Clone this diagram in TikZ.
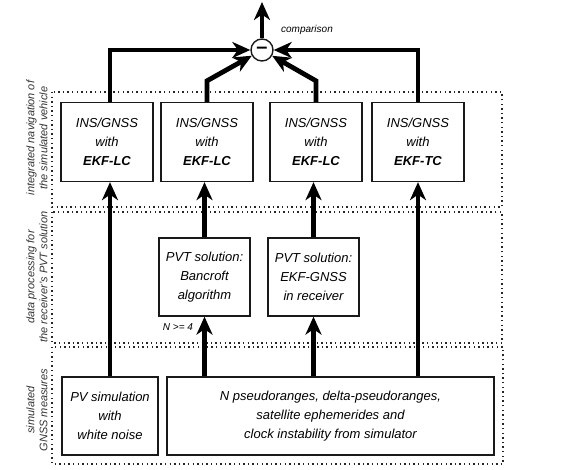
\documentclass[tikz,border=0pt]{standalone}
\usepackage{fontspec}
\setmainfont{Liberation Sans}
\usetikzlibrary{arrows.meta, positioning}

\begin{document}
\begin{tikzpicture}[
    x=1pt, y=-1pt,
    box/.style={draw=black!90, line width=1.3pt, minimum width=92pt,
                minimum height=79pt, inner sep=2pt, align=center,
                font=\fontsize{13}{19}\selectfont\itshape},
    band/.style={draw=black!85, line width=1.4pt,
                 dash pattern=on 1.4pt off 3.2pt},
    side/.style={rotate=90, align=center, text=black!80,
                 font=\fontsize{11}{13}\selectfont\itshape},
    flow/.style={line width=4.8pt,
                 -{Stealth[length=18pt, width=16pt, inset=5.5pt]}}
  ]
  \useasboundingbox (0,0) rectangle (573,470);

  % dotted bands
  \draw[band] (52,92) rectangle (502,207);
  \draw[band] (52,212) rectangle (502,343);
  \draw[band] (52,347) rectangle (503,464);

  \node[side] (lblnav) at (37,138) {integrated navigation of\\the simulated vehicle};
  \node[side] (lblpvt) at (37,277) {data processing for\\the receiver's PVT solution};
  \node[side] (lblsim) at (37,410) {simulated\\GNSS measures};

  % integrated navigation
  \node[box] (lcA) at (107,142) {INS/GNSS\\with\\\textbf{EKF-LC}};
  \node[box] (lcB) at (207,142) {INS/GNSS\\with\\\textbf{EKF-LC}};
  \node[box] (lcC) at (316,142) {INS/GNSS\\with\\\textbf{EKF-LC}};
  \node[box] (tc) at (418,142) {INS/GNSS\\with\\\textbf{EKF-TC}};

  % PVT solution
  \node[box, minimum width=91pt, minimum height=78pt] (bancroft) at (204.5,277)
    {PVT solution:\\Bancroft\\algorithm};
  \node[box, minimum width=91pt, minimum height=78pt] (ekfgnss) at (313.5,277)
    {PVT solution:\\EKF-GNSS\\in receiver};

  % simulated measures
  \node[box, minimum width=96pt, minimum height=78pt] (pvsim) at (110,416)
    {PV simulation\\with\\white noise};
  \node[box, minimum width=327pt, minimum height=78pt] (meas) at (330.5,416)
    {N pseudoranges, delta-pseudoranges,\\satellite ephemerides and\\clock instability from simulator};

  % comparison
  \node[circle, draw=black!90, line width=1.4pt, minimum size=22pt, inner sep=0pt,
        font=\fontsize{20}{20}\selectfont\bfseries] (diff) at (262,50) {--};
  \coordinate (out) at (262,2);
  \node[font=\fontsize{10}{12}\selectfont\itshape] (cmp) at (307,30) {comparison};
  \node[font=\fontsize{10}{12}\selectfont\itshape] (nmin) at (178,327) {N >= 4};

  \draw[flow] (pvsim.north) -- (pvsim.north |- lcA.south);
  \draw[flow] (meas.north -| bancroft) -- (bancroft);
  \draw[flow] (meas.north -| ekfgnss) -- (ekfgnss);
  \draw[flow] (meas.north -| tc) -- (tc);
  \draw[flow] (bancroft.north) -- (bancroft.north |- lcB.south);
  \draw[flow] (ekfgnss.north) -- (ekfgnss.north |- lcC.south);

  \draw[flow] (pvsim.north |- lcA.north) |- (diff);
  \draw[flow] (tc.north) |- (diff);
  \draw[flow] (lcB.north) -- ++(0,-21) -- (diff);
  \draw[flow] (lcC.north) -- ++(0,-21) -- (diff);
  \draw[flow] (diff) -- (out);
\end{tikzpicture}
\end{document}
